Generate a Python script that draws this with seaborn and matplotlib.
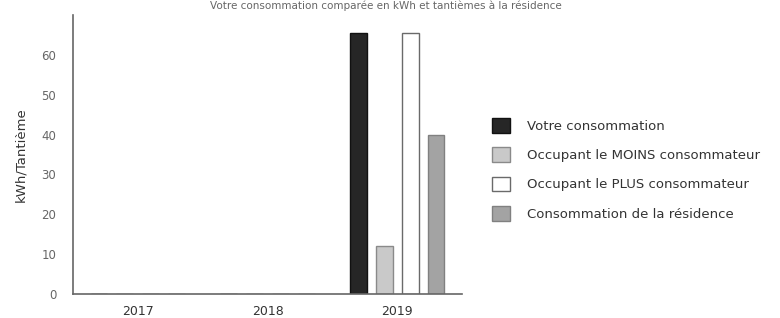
import matplotlib
matplotlib.use("Agg")
import matplotlib.pyplot as plt
import seaborn as sns
import pandas as pd
from matplotlib.patches import Patch

years = ["2017", "2018", "2019"]
series = ["Votre consommation", "Occupant le MOINS consommateur",
          "Occupant le PLUS consommateur", "Consommation de la résidence"]
votre = [0, 0, 65.5]
moins = [0, 0, 12]
plus = [0, 0, 65.5]
residence = [0, 0, 40]
yticks = [0, 10, 20, 30, 40, 50, 60]
ylabel = "kWh/Tantième"
title = "Votre consommation comparée en kWh et tantièmes à la résidence"

colors = ["#262626", "#c9c9c9", "#ffffff", "#a3a3a3"]
edges = ["#111111", "#8a8a8a", "#6a6a6a", "#808080"]

rows = []
for s, vals in zip(series, [votre, moins, plus, residence]):
    for y, v in zip(years, vals):
        rows.append({"year": y, "serie": s, "value": v})
df = pd.DataFrame(rows)

sns.set_style("white")
fig = plt.figure(figsize=(7.8, 3.18), dpi=100)
ax = fig.add_axes([0.0936, 0.0755, 0.4987, 0.8775])

sns.barplot(data=df, x="year", y="value", hue="serie", hue_order=series,
            order=years, palette=colors, width=0.8, gap=0.35, ax=ax,
            legend=False, errorbar=None)

for i, cont in enumerate(ax.containers):
    for p in cont.patches:
        p.set_edgecolor(edges[i])
        p.set_linewidth(1.0)

ax.set_xlim(-0.5, 2.5)
ax.set_ylim(0, 70)
ax.set_yticks(yticks)
ax.set_yticklabels([str(t) for t in yticks], color="#666666", fontsize=8.5)
ax.tick_params(axis="y", length=0, pad=12)
ax.tick_params(axis="x", length=0, pad=8)
for lab in ax.get_xticklabels():
    lab.set_fontsize(9)
    lab.set_color("#333333")
ax.set_xlabel("")
ax.set_ylabel(ylabel, fontsize=9.5, color="#333333", labelpad=10)
for side in ["top", "right"]:
    ax.spines[side].set_visible(False)
for side in ["left", "bottom"]:
    ax.spines[side].set_color("#666666")
    ax.spines[side].set_linewidth(1.2)

handles = [Patch(facecolor=c, edgecolor=e, linewidth=1.0) for c, e in zip(colors, edges)]
fig.legend(handles, series, loc="upper left", bbox_to_anchor=(492 / 780, 1 - 118 / 318),
           frameon=False, fontsize=9.5, handlelength=1.35, handleheight=1.35,
           labelspacing=1.1, handletextpad=1.3, borderpad=0, borderaxespad=0,
           labelcolor="#333333")

fig.text(0.495, 0.998, title, ha="center", va="top", fontsize=7.5, color="#666666")

fig.savefig("out.png", dpi=100)
